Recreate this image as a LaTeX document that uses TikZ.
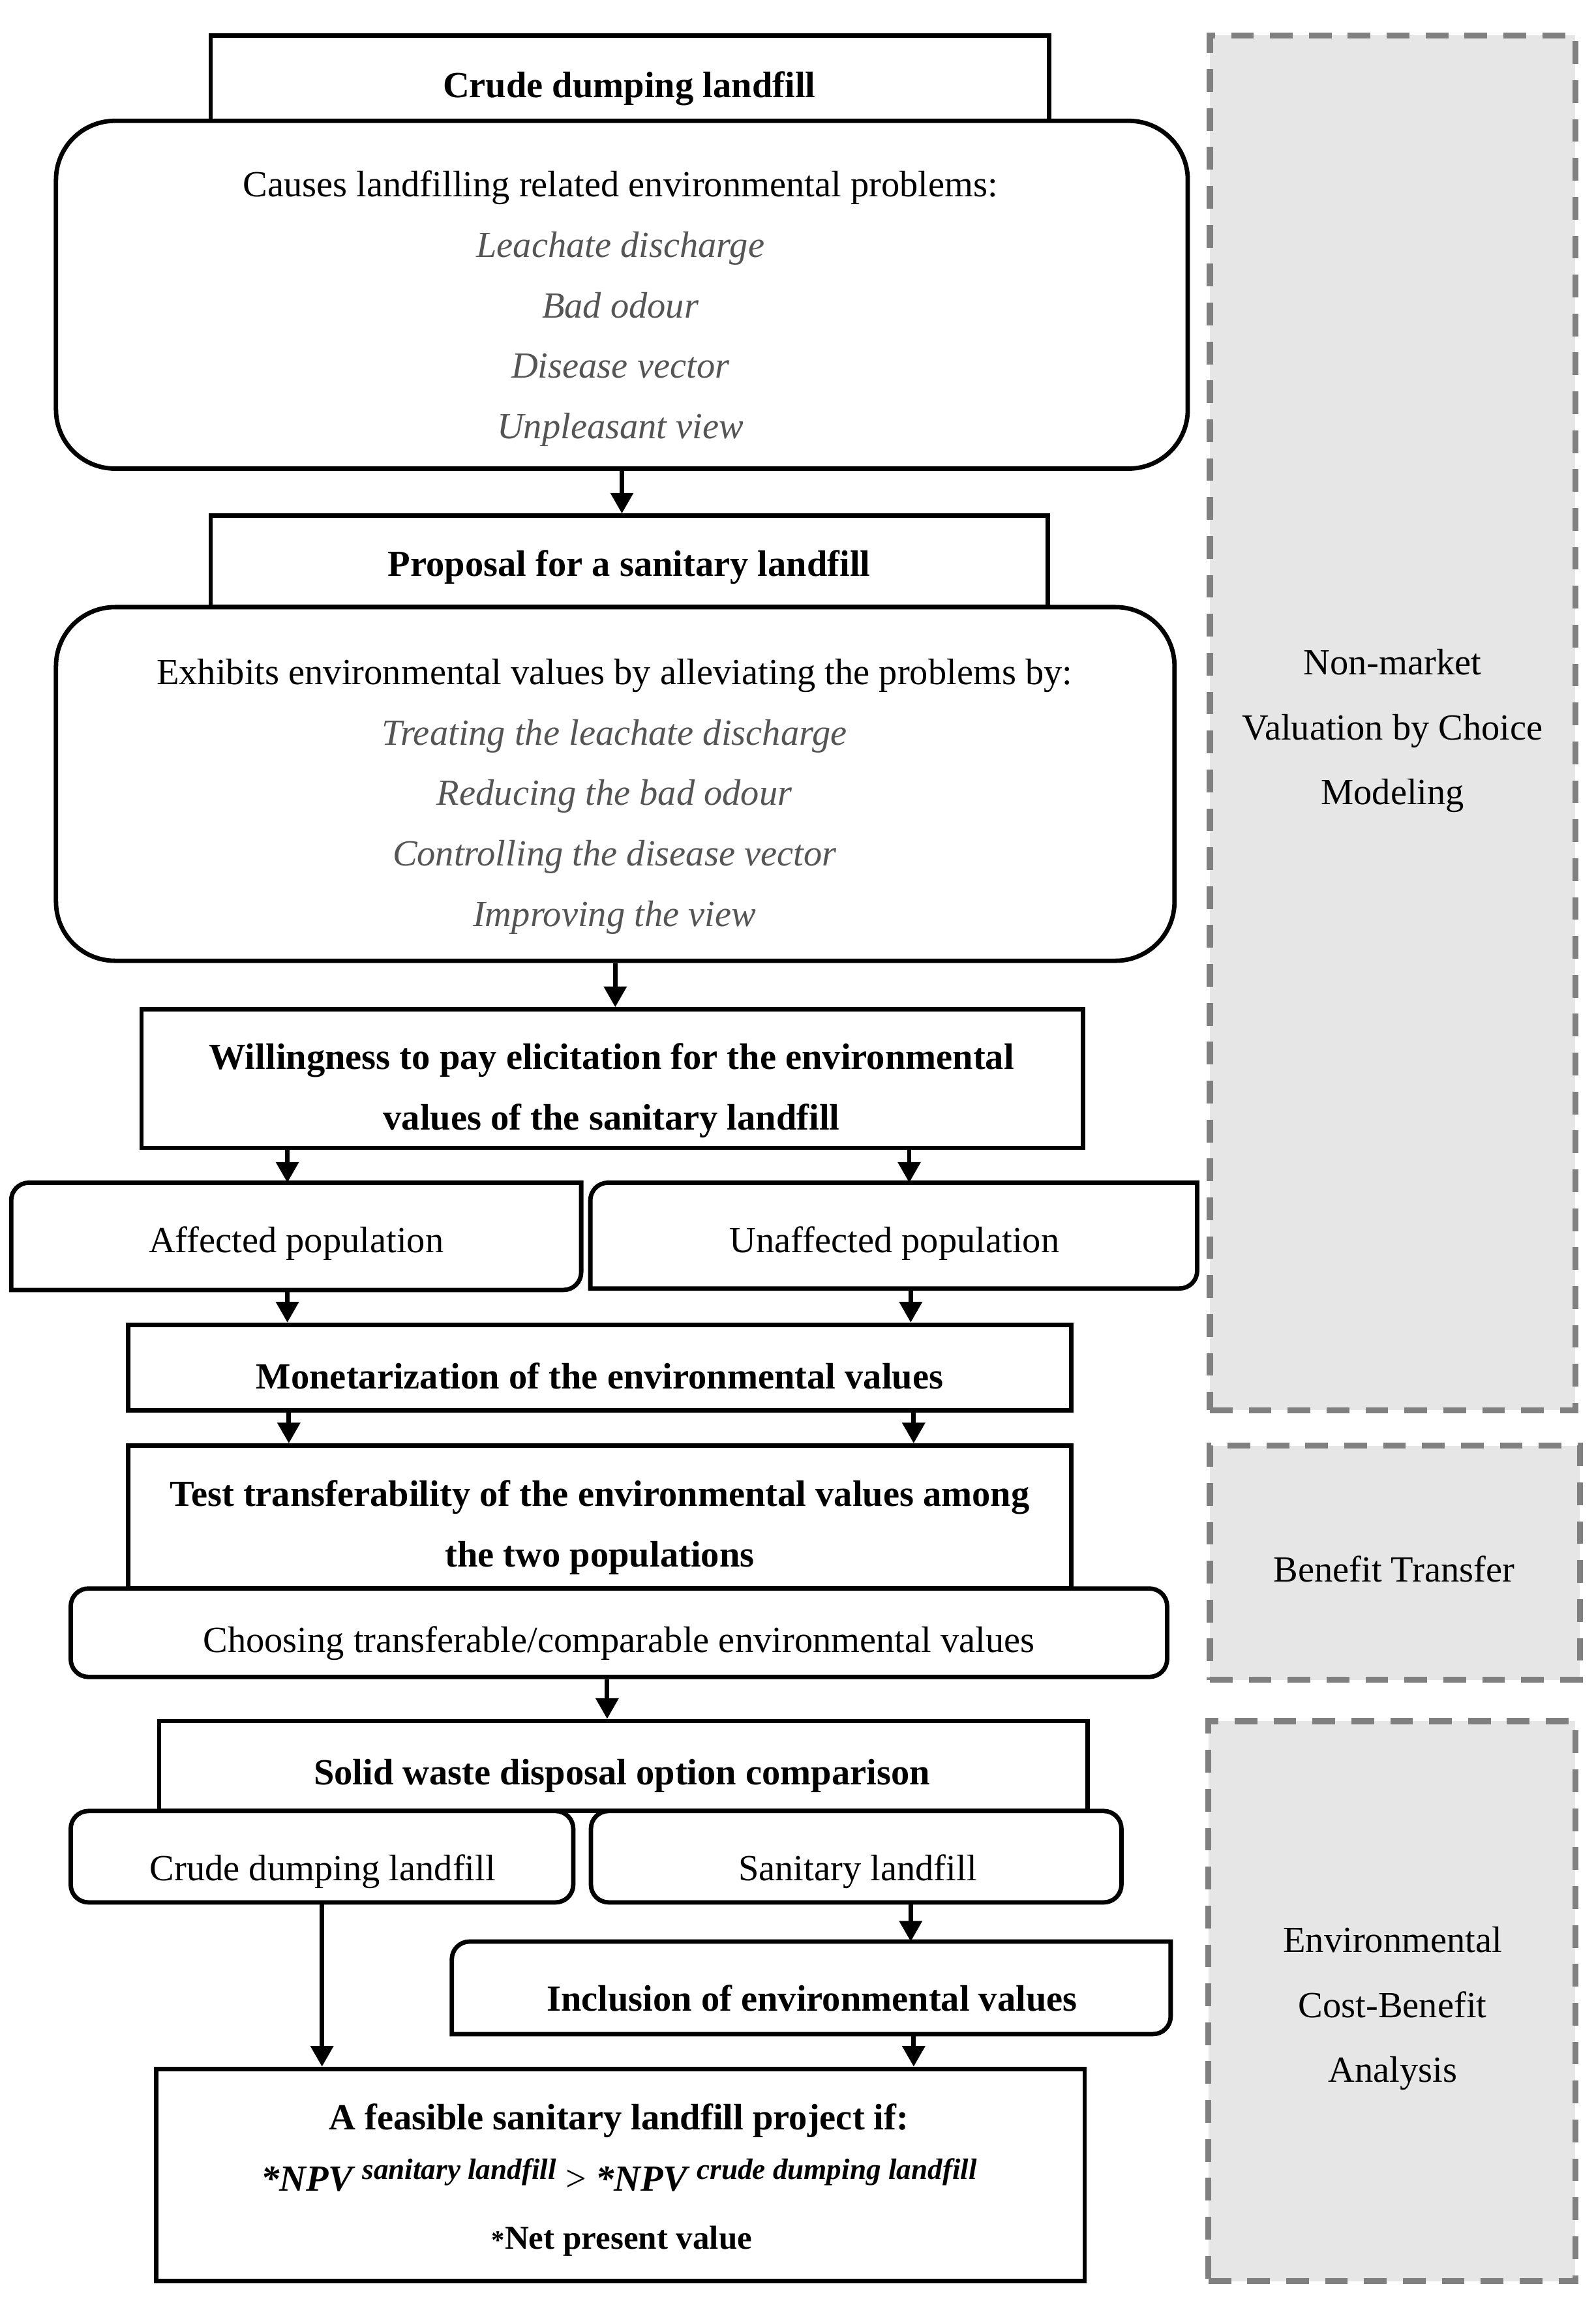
\documentclass[tikz,border=0pt]{standalone}
\usepackage{fontspec}
\setmainfont{Liberation Serif}
\usetikzlibrary{arrows.meta}
\definecolor{sidefill}{HTML}{E6E6E6}
\definecolor{sidedash}{HTML}{808080}
\definecolor{listgray}{HTML}{555555}
\newcommand{\grayit}[1]{{\itshape\color{listgray}#1}}
\newcommand{\halfrbox}[1]{\draw[line width=1.5pt] ([yshift=-6pt]#1.north west) arc[start angle=180,end angle=90,radius=6pt] -- (#1.north east) -- ([yshift=6pt]#1.south east) arc[start angle=0,end angle=-90,radius=6pt] -- (#1.south west) -- cycle;}
\begin{document}
\begin{tikzpicture}[x=0.5pt,y=-0.5pt,
  sz/.style 2 args={minimum width={#1*0.5pt}, minimum height={#2*0.5pt}},
  frame/.style={draw, line width=1.5pt, fill=white, inner sep=0pt, rectangle},
  shapeonly/.style={inner sep=0pt, draw=none, rectangle},
  txt/.style={inner sep=0pt, align=center, yshift=-1.5pt, font=\fontsize{12.5}{20.5}\selectfont},
  btxt/.style={inner sep=0pt, align=center, yshift=-1.5pt, font=\fontsize{12.5}{20.5}\selectfont\bfseries},
  sidetxt/.style={inner sep=0pt, align=center, yshift=-1.5pt, font=\fontsize{12.5}{22}\selectfont},
  side/.style={draw=sidedash, fill=sidefill, line width=2pt, dash pattern=on 7.7pt off 5.5pt, inner sep=0pt, rectangle},
  arr/.style={-{Triangle[length=7pt,width=7.5pt]}, line width=1.5pt}]
\useasboundingbox (0,0) rectangle (1083,1569);

% side panels
\node[side, sz={248}{933}] (s1) at (945,490.5) {};
\node[sidetxt] (s1t) at (945,493) {Non-market\\Valuation by Choice\\Modeling};
\node[side, sz={251}{159}] (s2) at (946.5,1060.5) {};
\node[sidetxt] (s2t) at (946,1062) {Benefit Transfer};
\node[side, sz={249}{380}] (s3) at (944.5,1358) {};
\node[sidetxt] (s3t) at (945,1360) {Environmental\\Cost-Benefit\\Analysis};

% main flow
\node[frame, sz={569}{58}] (a) at (427.5,53) {};
\node[btxt] (at) at (427,57) {Crude dumping landfill};
\node[frame, rounded corners=20pt, sz={768}{236}] (r1) at (422,200) {};
\node[txt] (r1t) at (421,206.5) {Causes landfilling related environmental problems:\\ \grayit{Leachate discharge}\\ \grayit{Bad odour}\\ \grayit{Disease vector}\\ \grayit{Unpleasant view}};

\node[frame, sz={568}{62}] (b) at (427,381) {};
\node[btxt] (bt) at (427,382) {Proposal for a sanitary landfill};
\node[frame, rounded corners=20pt, sz={759}{240}] (r2) at (417.5,532) {};
\node[txt] (r2t) at (417,537.5) {Exhibits environmental values by alleviating the problems by:\\ \grayit{Treating the leachate discharge}\\ \grayit{Reducing the bad odour}\\ \grayit{Controlling the disease vector}\\ \grayit{Improving the view}};

\node[frame, sz={639}{94}] (c) at (415.5,732) {};
\node[btxt] (ct) at (415,737) {Willingness to pay elicitation for the environmental\\values of the sanitary landfill};

\node[shapeonly, sz={386}{72}] (d1) at (201,839) {};
\halfrbox{d1}
\node[txt] (d1t) at (201,841) {Affected population};
\node[shapeonly, sz={411}{71}] (d2) at (606.5,838.5) {};
\halfrbox{d2}
\node[txt] (d2t) at (607,841) {Unaffected population};

\node[frame, sz={640}{58}] (e) at (407,928) {};
\node[btxt] (et) at (407,931) {Monetarization of the environmental values};

\node[frame, sz={640}{97}] (f) at (407,1029.5) {};
\node[btxt] (ft) at (407,1033.5) {Test transferability of the environmental values among\\the two populations};
\node[frame, rounded corners=6pt, sz={744}{60}] (g) at (420,1108) {};
\node[txt] (gt) at (420,1112) {Choosing transferable/comparable environmental values};

\node[frame, sz={630}{61}] (h) at (423,1198.5) {};
\node[btxt] (ht) at (422,1202) {Solid waste disposal option comparison};
\node[frame, rounded corners=6pt, sz={341}{62}] (i1) at (218.5,1260) {};
\node[txt] (i1t) at (219,1267) {Crude dumping landfill};
\node[frame, rounded corners=6pt, sz={360}{62}] (i2) at (581,1260) {};
\node[txt] (i2t) at (582,1267) {Sanitary landfill};

\node[shapeonly, sz={487}{62}] (j) at (550.5,1349) {};
\halfrbox{j}
\node[btxt] (jt) at (551,1353) {Inclusion of environmental values};

\node[frame, sz={630}{144}] (k) at (421,1476) {};
\node[btxt] (k1) at (420,1436) {A feasible sanitary landfill project if:};
\node[btxt] (k2) at (420,1473) {\itshape *NPV \raisebox{4pt}{\fontsize{10}{10}\selectfont sanitary landfill} {\normalfont >} *NPV \raisebox{4pt}{\fontsize{10}{10}\selectfont crude dumping landfill}};
\node[btxt, font=\fontsize{11.3}{14}\selectfont\bfseries] (k3) at (422,1518) {{\fontsize{9}{9}\selectfont *}Net present value};

% connectors
\coordinate (xa) at (195,0);
\coordinate (xb) at (617,0);
\coordinate (xd) at (618,0);
\coordinate (xe) at (196,0);
\coordinate (xf) at (620,0);
\coordinate (xg) at (412,0);
\draw[arr] (r1.south) -- (r1.south |- b.north);
\draw[arr] (r2.south) -- (r2.south |- c.north);
\draw[arr] (c.south -| xa) -- (d1.north -| xa);
\draw[arr] (c.south -| xb) -- (d2.north -| xb);
\draw[arr] (d1.south -| xa) -- (e.north -| xa);
\draw[arr] (d2.south -| xd) -- (e.north -| xd);
\draw[arr] (e.south -| xe) -- (f.north -| xe);
\draw[arr] (e.south -| xf) -- (f.north -| xf);
\draw[arr] (g.south -| xg) -- (h.north -| xg);
\draw[arr] (i1.south) -- (i1.south |- k.north);
\draw[arr] (i2.south -| xd) -- (j.north -| xd);
\draw[arr] (j.south -| xf) -- (k.north -| xf);
\end{tikzpicture}
\end{document}
